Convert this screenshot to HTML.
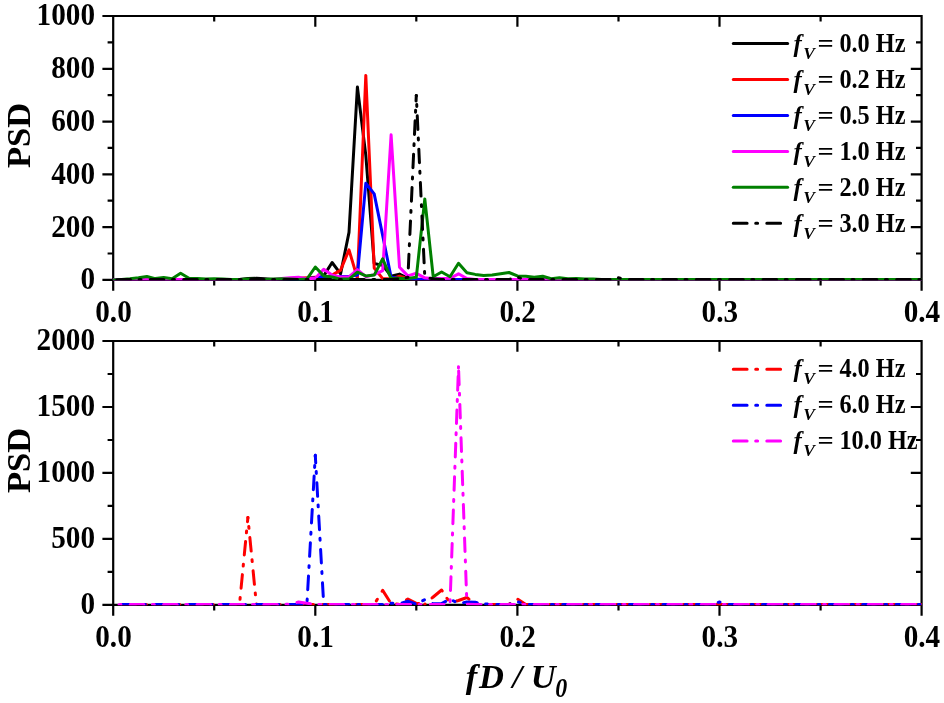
<!DOCTYPE html>
<html lang="en"><head><meta charset="utf-8"><title>PSD vs fD/U0</title>
<style>html,body{margin:0;padding:0;background:#fff}svg{display:block}text{font-family:"Liberation Serif","Times New Roman",serif;font-weight:bold;fill:#000}.tk{font-size:29.2px}.lg{font-size:24.8px}.ax{font-size:34.6px}.c{fill:none;stroke-width:3;stroke-linejoin:round;stroke-linecap:round}.dd{stroke-dasharray:13.6 8.6 1.9 9.3}.ld{stroke-dasharray:13.8 8.6 1.9 9.2}.fr{fill:none;stroke:#000;stroke-width:2.2;stroke-linecap:butt}</style></head><body>
<svg width="944" height="703" viewBox="0 0 944 703">
<rect width="944" height="703" fill="#fff"/>
<path class="fr" d="M113.2 16.0H921.6V279.9H113.2ZM113.2 279.9v10.8M113.2 16.0v10.8M214.2 279.9v5.6M214.2 16.0v5.6M315.3 279.9v10.8M315.3 16.0v10.8M416.3 279.9v5.6M416.3 16.0v5.6M517.4 279.9v10.8M517.4 16.0v10.8M618.5 279.9v5.6M618.5 16.0v5.6M719.5 279.9v10.8M719.5 16.0v10.8M820.6 279.9v5.6M820.6 16.0v5.6M921.6 279.9v10.8M921.6 16.0v10.8M113.2 279.9h-10.8M921.6 279.9h-10.8M113.2 253.5h-5.6M921.6 253.5h-5.6M113.2 227.1h-10.8M921.6 227.1h-10.8M113.2 200.7h-5.6M921.6 200.7h-5.6M113.2 174.3h-10.8M921.6 174.3h-10.8M113.2 147.9h-5.6M921.6 147.9h-5.6M113.2 121.6h-10.8M921.6 121.6h-10.8M113.2 95.2h-5.6M921.6 95.2h-5.6M113.2 68.8h-10.8M921.6 68.8h-10.8M113.2 42.4h-5.6M921.6 42.4h-5.6M113.2 16.0h-10.8M921.6 16.0h-10.8"/>
<clipPath id="cp16"><rect x="112.9" y="14.0" width="809.0" height="266.2"/></clipPath>
<g clip-path="url(#cp16)">
<polyline class="c" stroke="#000" points="113.2,279.9 121.6,279.4 130.0,279.4 138.5,279.4 146.9,279.4 155.3,279.4 163.7,279.4 172.1,279.4 180.6,279.4 189.0,279.4 197.4,279.4 205.8,279.4 214.2,279.4 222.7,279.4 231.1,279.4 239.5,279.4 247.9,278.6 256.4,278.3 264.8,278.8 273.2,279.4 281.6,279.4 290.0,279.4 298.5,279.4 306.9,279.4 315.3,278.8 323.7,275.9 332.1,262.5 340.6,273.8 349.0,232.4 357.4,87.0 365.8,155.1 374.2,263.5 382.7,265.4 391.1,276.2 399.5,274.1 407.9,278.3 416.3,279.1 424.8,279.4 433.2,279.4 441.6,279.4 450.0,279.4 458.5,279.4 466.9,279.4 475.3,279.4 483.7,279.4 492.1,279.4 500.6,279.4 509.0,279.4 517.4,279.4 525.8,279.4 534.2,279.4 542.7,279.4 551.1,279.4 559.5,279.4 567.9,279.4 576.3,279.4 584.8,279.4 593.2,279.4 601.6,279.4 610.0,279.4 618.4,279.4 626.9,279.4 635.3,279.4 643.7,279.4 652.1,279.4 660.6,279.4 669.0,279.4 677.4,279.4 685.8,279.4 694.2,279.4 702.7,279.4 711.1,279.4 719.5,279.4 727.9,279.4 736.3,279.4 744.8,279.4 753.2,279.4 761.6,279.4 770.0,279.4 778.4,279.4 786.9,279.4 795.3,279.4 803.7,279.4 812.1,279.4 820.5,279.4 829.0,279.4 837.4,279.4 845.8,279.4 854.2,279.4 862.7,279.4 871.1,279.4 879.5,279.4 887.9,279.4 896.3,279.4 904.8,279.4 913.2,279.4 921.6,279.4"/>
<polyline class="c" stroke="#ff0000" points="113.2,279.9 121.6,279.4 130.0,279.4 138.5,279.4 146.9,279.4 155.3,279.4 163.7,279.4 172.1,279.4 180.6,279.4 189.0,279.4 197.4,279.4 205.8,279.4 214.2,279.4 222.7,279.4 231.1,279.4 239.5,279.4 247.9,279.4 256.4,279.4 264.8,279.4 273.2,279.4 281.6,279.4 290.0,278.8 298.5,278.3 306.9,277.8 315.3,277.3 323.7,277.8 332.1,275.1 340.6,270.1 349.0,249.8 357.4,278.3 365.8,75.4 374.2,268.0 382.7,278.6 391.1,279.1 399.5,276.2 407.9,278.8 416.3,279.4 424.8,279.4 433.2,279.4 441.6,279.4 450.0,279.4 458.5,279.4 466.9,279.4 475.3,279.4 483.7,279.4 492.1,279.4 500.6,279.4 509.0,279.4 517.4,279.4 525.8,279.4 534.2,279.4 542.7,279.4 551.1,279.4 559.5,279.4 567.9,279.4 576.3,279.4 584.8,279.4 593.2,279.4 601.6,279.4 610.0,279.4 618.4,279.4 626.9,279.4 635.3,279.4 643.7,279.4 652.1,279.4 660.6,279.4 669.0,279.4 677.4,279.4 685.8,279.4 694.2,279.4 702.7,279.4 711.1,279.4 719.5,279.4 727.9,279.4 736.3,279.4 744.8,279.4 753.2,279.4 761.6,279.4 770.0,279.4 778.4,279.4 786.9,279.4 795.3,279.4 803.7,279.4 812.1,279.4 820.5,279.4 829.0,279.4 837.4,279.4 845.8,279.4 854.2,279.4 862.7,279.4 871.1,279.4 879.5,279.4 887.9,279.4 896.3,279.4 904.8,279.4 913.2,279.4 921.6,279.4"/>
<polyline class="c" stroke="#0000ff" points="113.2,279.9 121.6,279.4 130.0,279.4 138.5,279.4 146.9,279.4 155.3,279.4 163.7,279.4 172.1,279.4 180.6,279.4 189.0,279.4 197.4,279.4 205.8,279.4 214.2,279.4 222.7,279.4 231.1,279.4 239.5,279.4 247.9,279.4 256.4,279.4 264.8,279.4 273.2,279.4 281.6,279.4 290.0,279.4 298.5,279.4 306.9,278.6 315.3,277.8 323.7,276.7 332.1,276.7 340.6,276.5 349.0,276.5 357.4,275.1 365.8,183.3 374.2,193.9 382.7,235.6 391.1,277.3 399.5,278.6 407.9,278.8 416.3,279.4 424.8,279.4 433.2,279.4 441.6,279.4 450.0,279.4 458.5,279.4 466.9,279.4 475.3,279.4 483.7,279.4 492.1,279.4 500.6,279.4 509.0,279.4 517.4,279.4 525.8,279.4 534.2,279.4 542.7,279.4 551.1,279.4 559.5,279.4 567.9,279.4 576.3,279.4 584.8,279.4 593.2,279.4 601.6,279.4 610.0,279.4 618.4,279.4 626.9,279.4 635.3,279.4 643.7,279.4 652.1,279.4 660.6,279.4 669.0,279.4 677.4,279.4 685.8,279.4 694.2,279.4 702.7,279.4 711.1,279.4 719.5,279.4 727.9,279.4 736.3,279.4 744.8,279.4 753.2,279.4 761.6,279.4 770.0,279.4 778.4,279.4 786.9,279.4 795.3,279.4 803.7,279.4 812.1,279.4 820.5,279.4 829.0,279.4 837.4,279.4 845.8,279.4 854.2,279.4 862.7,279.4 871.1,279.4 879.5,279.4 887.9,279.4 896.3,279.4 904.8,279.4 913.2,279.4 921.6,279.4"/>
<polyline class="c" stroke="#ff00ff" points="113.2,279.9 121.6,279.4 130.0,279.4 138.5,279.4 146.9,279.4 155.3,279.4 163.7,279.4 172.1,279.4 180.6,279.4 189.0,279.4 197.4,279.4 205.8,279.4 214.2,279.4 222.7,279.4 231.1,279.4 239.5,279.4 247.9,279.4 256.4,279.4 264.8,279.4 273.2,279.4 281.6,278.6 290.0,277.8 298.5,277.3 306.9,278.8 315.3,278.3 323.7,269.3 332.1,275.1 340.6,277.0 349.0,277.0 357.4,269.6 365.8,276.7 374.2,274.6 382.7,270.7 391.1,134.8 399.5,267.2 407.9,275.9 416.3,273.3 424.8,277.8 433.2,278.8 441.6,278.6 450.0,278.3 458.5,273.8 466.9,278.6 475.3,279.4 483.7,279.4 492.1,279.4 500.6,279.4 509.0,279.4 517.4,279.4 525.8,279.4 534.2,279.4 542.7,279.4 551.1,279.4 559.5,279.4 567.9,279.4 576.3,279.4 584.8,279.4 593.2,279.4 601.6,279.4 610.0,279.4 618.4,279.4 626.9,279.4 635.3,279.4 643.7,279.4 652.1,279.4 660.6,279.4 669.0,279.4 677.4,279.4 685.8,279.4 694.2,279.4 702.7,279.4 711.1,279.4 719.5,279.4 727.9,279.4 736.3,279.4 744.8,279.4 753.2,279.4 761.6,279.4 770.0,279.4 778.4,279.4 786.9,279.4 795.3,279.4 803.7,279.4 812.1,279.4 820.5,279.4 829.0,279.4 837.4,279.4 845.8,279.4 854.2,279.4 862.7,279.4 871.1,279.4 879.5,279.4 887.9,279.4 896.3,279.4 904.8,279.4 913.2,279.4 921.6,279.4"/>
<polyline class="c" stroke="#008000" points="113.2,279.9 121.6,279.4 130.0,278.8 138.5,277.8 146.9,276.5 155.3,278.6 163.7,277.5 172.1,278.8 180.6,273.3 189.0,278.3 197.4,278.6 205.8,279.1 214.2,278.8 222.7,279.1 231.1,279.4 239.5,279.4 247.9,279.1 256.4,279.4 264.8,279.4 273.2,279.1 281.6,278.8 290.0,279.1 298.5,279.4 306.9,279.1 315.3,267.0 323.7,275.9 332.1,277.0 340.6,279.1 349.0,279.1 357.4,272.2 365.8,275.9 374.2,275.1 382.7,258.8 391.1,278.6 399.5,278.3 407.9,278.6 416.3,277.3 424.8,198.9 433.2,276.7 441.6,272.0 450.0,276.7 458.5,263.3 466.9,272.8 475.3,274.4 483.7,275.4 492.1,275.1 500.6,273.8 509.0,272.5 517.4,275.9 525.8,276.2 534.2,277.3 542.7,276.2 551.1,278.8 559.5,277.8 567.9,278.8 576.3,278.6 584.8,279.1 593.2,279.1 601.6,279.4 610.0,279.6 618.4,279.6 626.9,279.6 635.3,279.6 643.7,279.6 652.1,279.6 660.6,279.6 669.0,279.6 677.4,279.6 685.8,279.6 694.2,279.6 702.7,279.6 711.1,279.6 719.5,279.6 727.9,279.6 736.3,279.6 744.8,279.6 753.2,279.6 761.6,279.6 770.0,279.6 778.4,279.6 786.9,279.6 795.3,279.6 803.7,279.6 812.1,279.6 820.5,279.6 829.0,279.6 837.4,279.6 845.8,279.6 854.2,279.6 862.7,279.6 871.1,279.6 879.5,279.6 887.9,279.6 896.3,279.6 904.8,279.6 913.2,279.6 921.6,279.6"/>
<polyline class="c dd" stroke="#000" stroke-dashoffset="29.70" points="113.2,279.9 121.6,279.5 130.0,279.5 138.5,279.5 146.9,279.5 155.3,279.5 163.7,279.5 172.1,279.5 180.6,279.5 189.0,279.5 197.4,279.5 205.8,279.5 214.2,279.5 222.7,279.5 231.1,279.5 239.5,279.5 247.9,279.5 256.4,279.5 264.8,279.5 273.2,279.5 281.6,279.5 290.0,279.5 298.5,279.5 306.9,279.5 315.3,279.5 323.7,279.5 332.1,279.5 340.6,279.5 349.0,279.5 357.4,279.5 365.8,279.5 374.2,279.5 382.7,279.5 391.1,279.5 399.5,278.8 407.9,277.3 416.3,95.4"/>
<polyline class="c dd" stroke="#000" stroke-dashoffset="12.97" points="416.3,95.4 424.8,277.3 433.2,278.8 441.6,279.5 450.0,279.5 458.5,279.5 466.9,279.5 475.3,279.5 483.7,279.5 492.1,279.5 500.6,279.5 509.0,279.5 517.4,277.3 525.8,279.5 534.2,279.5 542.7,279.5 551.1,279.5 559.5,279.5 567.9,279.5 576.3,279.5 584.8,279.5 593.2,279.5 601.6,279.5 610.0,279.5 618.4,277.8 626.9,279.5 635.3,279.5 643.7,279.5 652.1,279.5 660.6,279.5 669.0,279.5 677.4,279.5 685.8,279.5 694.2,279.5 702.7,279.5 711.1,279.5 719.5,279.5 727.9,279.5 736.3,279.5 744.8,279.5 753.2,279.5 761.6,279.5 770.0,279.5 778.4,279.5 786.9,279.5 795.3,279.5 803.7,279.5 812.1,279.5 820.5,279.5 829.0,279.5 837.4,279.5 845.8,279.5 854.2,279.5 862.7,279.5 871.1,279.5 879.5,279.5 887.9,279.5 896.3,279.5 904.8,279.5 913.2,279.5 921.6,279.5"/>
</g>
<text class="tk" text-anchor="end" transform="translate(95 289.3) scale(1 1.090)">0</text>
<text class="tk" text-anchor="end" transform="translate(95 236.5) scale(1 1.090)">200</text>
<text class="tk" text-anchor="end" transform="translate(95 183.7) scale(1 1.090)">400</text>
<text class="tk" text-anchor="end" transform="translate(95 131.0) scale(1 1.090)">600</text>
<text class="tk" text-anchor="end" transform="translate(95 78.2) scale(1 1.090)">800</text>
<text class="tk" text-anchor="end" transform="translate(95 25.4) scale(1 1.090)">1000</text>
<text class="tk" text-anchor="middle" transform="translate(113.5 321.7) scale(1 1.090)">0.0</text>
<text class="tk" text-anchor="middle" transform="translate(315.6 321.7) scale(1 1.090)">0.1</text>
<text class="tk" text-anchor="middle" transform="translate(517.7 321.7) scale(1 1.090)">0.2</text>
<text class="tk" text-anchor="middle" transform="translate(719.8 321.7) scale(1 1.090)">0.3</text>
<text class="tk" text-anchor="middle" transform="translate(921.9 321.7) scale(1 1.090)">0.4</text>
<path class="fr" d="M113.2 341.0H921.6V604.9H113.2ZM113.2 604.9v10.8M113.2 341.0v10.8M214.2 604.9v5.6M214.2 341.0v5.6M315.3 604.9v10.8M315.3 341.0v10.8M416.3 604.9v5.6M416.3 341.0v5.6M517.4 604.9v10.8M517.4 341.0v10.8M618.5 604.9v5.6M618.5 341.0v5.6M719.5 604.9v10.8M719.5 341.0v10.8M820.6 604.9v5.6M820.6 341.0v5.6M921.6 604.9v10.8M921.6 341.0v10.8M113.2 604.9h-10.8M921.6 604.9h-10.8M113.2 571.9h-5.6M921.6 571.9h-5.6M113.2 538.9h-10.8M921.6 538.9h-10.8M113.2 505.9h-5.6M921.6 505.9h-5.6M113.2 472.9h-10.8M921.6 472.9h-10.8M113.2 440.0h-5.6M921.6 440.0h-5.6M113.2 407.0h-10.8M921.6 407.0h-10.8M113.2 374.0h-5.6M921.6 374.0h-5.6M113.2 341.0h-10.8M921.6 341.0h-10.8"/>
<clipPath id="cp341"><rect x="112.9" y="339.0" width="809.0" height="266.2"/></clipPath>
<g clip-path="url(#cp341)">
<polyline class="c dd" stroke="#ff0000" stroke-dashoffset="24.28" points="113.2,604.9 121.6,604.5 130.0,604.5 138.5,604.5 146.9,604.5 155.3,604.5 163.7,604.5 172.1,604.5 180.6,604.5 189.0,604.5 197.4,604.5 205.8,604.5 214.2,604.5 222.7,604.5 231.1,604.5 239.5,604.5 247.9,517.5"/>
<polyline class="c dd" stroke="#ff0000" stroke-dashoffset="13.25" points="247.9,517.5 256.4,604.5 264.8,604.5 273.2,604.5 281.6,604.5 290.0,604.5 298.5,604.5 306.9,604.5 315.3,604.5 323.7,604.5 332.1,604.5 340.6,604.5 349.0,604.5 357.4,604.5 365.8,604.5 374.2,604.4 382.7,590.4 391.1,603.6 399.5,604.2 407.9,599.0 416.3,603.3 424.8,604.2"/>
<polyline class="c dd" stroke="#ff0000" stroke-dashoffset="23.80" points="424.8,604.2 433.2,597.0 441.6,590.0 450.0,602.9"/>
<polyline class="c dd" stroke="#ff0000" stroke-dashoffset="26.60" points="450.0,602.9 458.5,600.5 466.9,597.5 475.3,603.8 483.7,604.5 492.1,604.5 500.6,604.5 509.0,604.2"/>
<polyline class="c dd" stroke="#ff0000" stroke-dashoffset="23.00" points="509.0,604.2 517.4,599.0 525.8,604.4 534.2,604.5 542.7,604.5 551.1,604.5 559.5,604.5 567.9,604.5 576.3,604.5 584.8,604.5 593.2,604.5 601.6,604.5 610.0,604.5 618.4,604.5 626.9,604.5 635.3,604.5 643.7,604.5 652.1,604.5 660.6,604.5 669.0,604.5 677.4,604.5 685.8,604.5 694.2,604.5 702.7,604.5 711.1,604.5 719.5,604.5 727.9,604.5 736.3,604.5 744.8,604.5 753.2,604.5 761.6,604.5 770.0,604.5 778.4,604.5 786.9,604.5 795.3,604.5 803.7,604.5 812.1,604.5 820.5,604.5 829.0,604.5 837.4,604.5 845.8,604.5 854.2,604.5 862.7,604.5 871.1,604.5 879.5,604.5 887.9,604.5 896.3,604.5 904.8,604.5 913.2,604.5 921.6,604.5"/>
<polyline class="c dd" stroke="#0000ff" stroke-dashoffset="25.36" points="113.2,604.9 121.6,604.4 130.0,604.4 138.5,604.4 146.9,604.4 155.3,604.4 163.7,604.4 172.1,604.4 180.6,604.4 189.0,604.4 197.4,604.4 205.8,604.4 214.2,604.4 222.7,604.4 231.1,604.4 239.5,604.4 247.9,604.4 256.4,604.4 264.8,604.4 273.2,604.4 281.6,604.4 290.0,604.4 298.5,604.4 306.9,604.4 315.3,455.3"/>
<polyline class="c dd" stroke="#0000ff" stroke-dashoffset="5.89" points="315.3,455.3 323.7,604.4 332.1,604.4 340.6,604.4 349.0,604.4 357.4,604.4 365.8,604.4 374.2,604.4 382.7,604.4 391.1,603.3 399.5,603.6 407.9,601.2 416.3,604.1 424.8,599.6 433.2,603.8 441.6,603.6 450.0,599.0 458.5,603.6 466.9,602.0 475.3,602.3 483.7,603.8 492.1,604.4 500.6,604.4 509.0,604.4 517.4,601.6 525.8,604.4 534.2,604.4 542.7,604.4 551.1,604.4 559.5,604.4 567.9,604.4 576.3,604.4 584.8,604.4 593.2,604.4 601.6,604.4 610.0,604.4 618.4,604.4 626.9,604.4 635.3,604.4 643.7,604.4 652.1,604.4 660.6,604.4 669.0,604.4 677.4,604.4 685.8,604.4 694.2,604.4 702.7,604.4 711.1,604.4 719.5,602.0 727.9,604.4 736.3,604.4 744.8,604.4 753.2,604.4 761.6,604.4 770.0,604.4 778.4,604.4 786.9,604.4 795.3,604.4 803.7,604.4 812.1,604.4 820.5,604.4 829.0,604.4 837.4,604.4 845.8,604.4 854.2,604.4 862.7,604.4 871.1,604.4 879.5,604.4 887.9,604.4 896.3,604.4 904.8,604.4 913.2,604.4 921.6,604.4"/>
<polyline class="c dd" stroke="#ff00ff" stroke-dashoffset="16.40" points="113.2,604.9 121.6,604.5 130.0,604.5 138.5,604.5 146.9,604.5 155.3,604.5 163.7,604.5 172.1,604.5 180.6,604.5 189.0,604.5 197.4,604.5 205.8,604.5 214.2,604.5 222.7,604.5 231.1,604.5 239.5,604.5 247.9,604.5 256.4,604.5 264.8,604.5 273.2,604.5 281.6,604.5 290.0,604.1 298.5,602.0 306.9,603.3 315.3,604.4 323.7,604.5 332.1,604.5 340.6,604.5 349.0,604.5 357.4,604.5 365.8,604.5 374.2,604.5 382.7,604.5 391.1,604.5 399.5,604.5 407.9,604.5 416.3,604.5 424.8,604.5 433.2,604.5 441.6,604.5 450.0,604.2 458.5,366.7"/>
<polyline class="c dd" stroke="#ff00ff" stroke-dashoffset="29.06" points="458.5,366.7 466.9,604.2 475.3,604.5 483.7,604.5 492.1,604.5 500.6,604.5 509.0,604.5 517.4,604.5 525.8,604.5 534.2,604.5 542.7,604.5 551.1,604.5 559.5,604.5 567.9,604.5 576.3,604.5 584.8,604.5 593.2,604.5 601.6,604.5 610.0,604.5 618.4,604.5 626.9,604.5 635.3,604.5 643.7,604.5 652.1,604.5 660.6,604.5 669.0,604.5 677.4,604.5 685.8,604.5 694.2,604.5 702.7,604.5 711.1,604.5 719.5,604.5 727.9,604.5 736.3,604.5 744.8,604.5 753.2,604.5 761.6,604.5 770.0,604.5 778.4,604.5 786.9,604.5 795.3,604.5 803.7,604.5 812.1,604.5 820.5,604.5 829.0,604.5 837.4,604.5 845.8,604.5 854.2,604.5 862.7,604.5 871.1,604.5 879.5,604.5 887.9,604.5 896.3,604.5 904.8,604.5 913.2,604.5 921.6,604.5"/>
</g>
<text class="tk" text-anchor="end" transform="translate(95 614.3) scale(1 1.090)">0</text>
<text class="tk" text-anchor="end" transform="translate(95 548.3) scale(1 1.090)">500</text>
<text class="tk" text-anchor="end" transform="translate(95 482.3) scale(1 1.090)">1000</text>
<text class="tk" text-anchor="end" transform="translate(95 416.4) scale(1 1.090)">1500</text>
<text class="tk" text-anchor="end" transform="translate(95 350.4) scale(1 1.090)">2000</text>
<text class="tk" text-anchor="middle" transform="translate(113.5 646.7) scale(1 1.090)">0.0</text>
<text class="tk" text-anchor="middle" transform="translate(315.6 646.7) scale(1 1.090)">0.1</text>
<text class="tk" text-anchor="middle" transform="translate(517.7 646.7) scale(1 1.090)">0.2</text>
<text class="tk" text-anchor="middle" transform="translate(719.8 646.7) scale(1 1.090)">0.3</text>
<text class="tk" text-anchor="middle" transform="translate(921.9 646.7) scale(1 1.090)">0.4</text>
<text class="ax" text-anchor="middle" transform="translate(30.2 135.4) rotate(-90)">PSD</text>
<text class="ax" text-anchor="middle" transform="translate(30.2 460.4) rotate(-90)">PSD</text>
<text class="ax" font-style="italic" style="font-size:34.5px" transform="translate(467.5 687.5) scale(1 0.965)"><tspan x="-1.8">f</tspan><tspan x="11.5">D / U</tspan></text>
<text class="ax" font-style="italic" style="font-size:24px" transform="translate(555.2 696.6) scale(1 1.1)">0</text>
<line class="c" stroke="#000" x1="733.3" y1="43.55" x2="787.6" y2="43.55"/>
<text class="lg" font-style="italic" x="793.4" y="51.7">f</text>
<text class="lg" font-style="italic" font-weight="normal" style="font-size:17.5px" x="803.2" y="58.9">V</text>
<text class="lg" transform="translate(817.6 52.1) scale(1.15 1)">=</text>
<text class="lg" style="font-size:24.3px" transform="translate(839.4 52.1) scale(1 1.1)">0.0 Hz</text>
<line class="c" stroke="#ff0000" x1="733.3" y1="79.50" x2="787.6" y2="79.50"/>
<text class="lg" font-style="italic" x="793.4" y="87.7">f</text>
<text class="lg" font-style="italic" font-weight="normal" style="font-size:17.5px" x="803.2" y="94.9">V</text>
<text class="lg" transform="translate(817.6 88.0) scale(1.15 1)">=</text>
<text class="lg" style="font-size:24.3px" transform="translate(839.4 88.0) scale(1 1.1)">0.2 Hz</text>
<line class="c" stroke="#0000ff" x1="733.3" y1="115.45" x2="787.6" y2="115.45"/>
<text class="lg" font-style="italic" x="793.4" y="123.6">f</text>
<text class="lg" font-style="italic" font-weight="normal" style="font-size:17.5px" x="803.2" y="130.8">V</text>
<text class="lg" transform="translate(817.6 124.0) scale(1.15 1)">=</text>
<text class="lg" style="font-size:24.3px" transform="translate(839.4 124.0) scale(1 1.1)">0.5 Hz</text>
<line class="c" stroke="#ff00ff" x1="733.3" y1="151.40" x2="787.6" y2="151.40"/>
<text class="lg" font-style="italic" x="793.4" y="159.6">f</text>
<text class="lg" font-style="italic" font-weight="normal" style="font-size:17.5px" x="803.2" y="166.8">V</text>
<text class="lg" transform="translate(817.6 160.0) scale(1.15 1)">=</text>
<text class="lg" style="font-size:24.3px" transform="translate(839.4 160.0) scale(1 1.1)">1.0 Hz</text>
<line class="c" stroke="#008000" x1="733.3" y1="187.35" x2="787.6" y2="187.35"/>
<text class="lg" font-style="italic" x="793.4" y="195.5">f</text>
<text class="lg" font-style="italic" font-weight="normal" style="font-size:17.5px" x="803.2" y="202.8">V</text>
<text class="lg" transform="translate(817.6 195.9) scale(1.15 1)">=</text>
<text class="lg" style="font-size:24.3px" transform="translate(839.4 195.9) scale(1 1.1)">2.0 Hz</text>
<line class="c ld" stroke="#000" x1="733.3" y1="223.30" x2="787.6" y2="223.30"/>
<text class="lg" font-style="italic" x="793.4" y="231.5">f</text>
<text class="lg" font-style="italic" font-weight="normal" style="font-size:17.5px" x="803.2" y="238.7">V</text>
<text class="lg" transform="translate(817.6 231.9) scale(1.15 1)">=</text>
<text class="lg" style="font-size:24.3px" transform="translate(839.4 231.9) scale(1 1.1)">3.0 Hz</text>
<line class="c ld" stroke="#ff0000" x1="733.3" y1="369.25" x2="787.6" y2="369.25"/>
<text class="lg" font-style="italic" x="793.4" y="376.9">f</text>
<text class="lg" font-style="italic" font-weight="normal" style="font-size:17.5px" x="803.2" y="384.2">V</text>
<text class="lg" transform="translate(817.6 377.4) scale(1.15 1)">=</text>
<text class="lg" style="font-size:24.3px" transform="translate(839.4 377.4) scale(1 1.1)">4.0 Hz</text>
<line class="c ld" stroke="#0000ff" x1="733.3" y1="405.15" x2="787.6" y2="405.15"/>
<text class="lg" font-style="italic" x="793.4" y="412.8">f</text>
<text class="lg" font-style="italic" font-weight="normal" style="font-size:17.5px" x="803.2" y="420.1">V</text>
<text class="lg" transform="translate(817.6 413.2) scale(1.15 1)">=</text>
<text class="lg" style="font-size:24.3px" transform="translate(839.4 413.2) scale(1 1.1)">6.0 Hz</text>
<line class="c ld" stroke="#ff00ff" x1="733.3" y1="441.05" x2="787.6" y2="441.05"/>
<text class="lg" font-style="italic" x="793.4" y="448.8">f</text>
<text class="lg" font-style="italic" font-weight="normal" style="font-size:17.5px" x="803.2" y="456.0">V</text>
<text class="lg" transform="translate(817.6 449.2) scale(1.15 1)">=</text>
<text class="lg" style="font-size:24.3px" transform="translate(839.4 449.2) scale(1 1.1)">10.0 Hz</text>
</svg></body></html>
